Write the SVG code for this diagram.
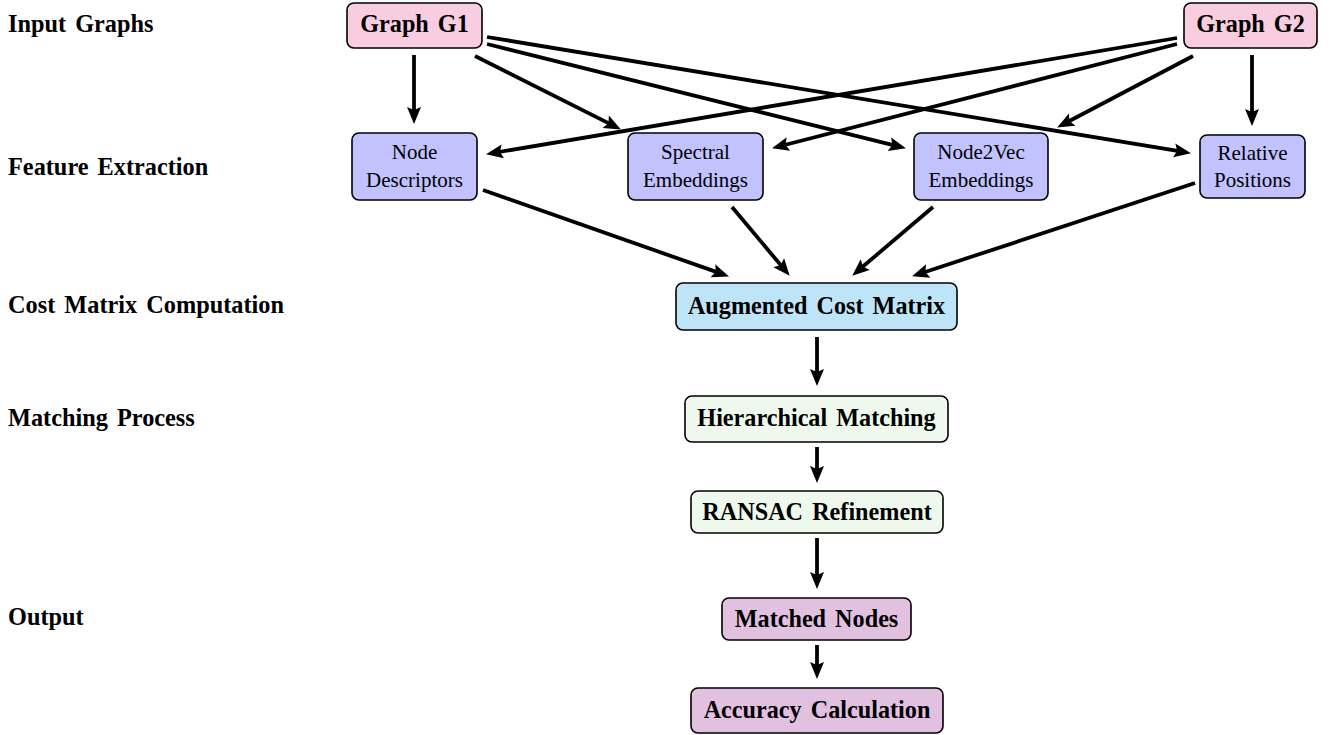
<svg xmlns="http://www.w3.org/2000/svg" width="1330" height="735" viewBox="0 0 1330 735">
<style>
  .box { stroke: #000; stroke-width: 1.6; }
  .pink { fill: #F8CDDF; }
  .blue { fill: #C2C2FF; }
  .cyan { fill: #BEE5F7; }
  .green { fill: #EEF8EC; }
  .violet { fill: #E1C0E0; }
  .bt { font-family: "Liberation Serif", "Times New Roman", serif; font-weight: bold; font-size: 24.2px; word-spacing: 3px; fill: #000; }
  .rt { font-family: "Liberation Serif", "Times New Roman", serif; font-size: 21px; fill: #000; }
  .lbl { font-family: "Liberation Serif", "Times New Roman", serif; font-weight: bold; font-size: 24.3px; word-spacing: 3px; fill: #000; }
  .edge { stroke: #000; stroke-width: 3.8; fill: none; marker-end: url(#ah); }
</style>
<defs>
  <marker id="ah" markerUnits="userSpaceOnUse" markerWidth="20" markerHeight="20" refX="8" refY="0" orient="auto" overflow="visible">
    <path d="M0,-7 L17,0 L0,7 L3,0 z" fill="#000"/>
  </marker>
</defs>
<rect width="1330" height="735" fill="#fff"/>

<g id="labels">
  <text class="lbl" x="8" y="32">Input Graphs</text>
  <text class="lbl" x="8" y="175">Feature Extraction</text>
  <text class="lbl" x="8" y="313">Cost Matrix Computation</text>
  <text class="lbl" x="8" y="426">Matching Process</text>
  <text class="lbl" x="8" y="625">Output</text>
</g>

<g id="connectors">
  <line class="edge" x1="414" y1="55" x2="414" y2="115"/>
  <line class="edge" x1="475" y1="56" x2="612.9" y2="125.4"/>
  <line class="edge" x1="487" y1="44" x2="897.2" y2="146.1"/>
  <line class="edge" x1="487" y1="37" x2="1182.1" y2="151.7"/>
  <line class="edge" x1="1252" y1="55" x2="1252" y2="117"/>
  <line class="edge" x1="1193" y1="56" x2="1065.1" y2="123.3"/>
  <line class="edge" x1="1177" y1="44" x2="780.7" y2="146"/>
  <line class="edge" x1="1177" y1="38" x2="494.9" y2="152.7"/>
  <line class="edge" x1="483" y1="190" x2="720.5" y2="273.4"/>
  <line class="edge" x1="732" y1="207" x2="783.9" y2="268.9"/>
  <line class="edge" x1="933" y1="207" x2="859.1" y2="269.8"/>
  <line class="edge" x1="1195" y1="183" x2="920.6" y2="273.5"/>
  <line class="edge" x1="817" y1="337" x2="817" y2="377"/>
  <line class="edge" x1="817" y1="447" x2="817" y2="474"/>
  <line class="edge" x1="817" y1="538" x2="817" y2="580"/>
  <line class="edge" x1="817" y1="645" x2="817" y2="670"/>
</g>

<g id="g1">
  <rect class="box pink" x="347" y="3" width="135" height="45" rx="7"/>
  <text class="bt" x="414.5" y="32" text-anchor="middle">Graph G1</text>
</g>
<g id="g2">
  <rect class="box pink" x="1184" y="3" width="133" height="45" rx="7"/>
  <text class="bt" x="1250.5" y="32" text-anchor="middle">Graph G2</text>
</g>

<g id="nodedesc">
  <rect class="box blue" x="352" y="133" width="125" height="67" rx="7"/>
  <text class="rt" x="414.5" y="159" text-anchor="middle">Node</text>
  <text class="rt" x="414.5" y="187" text-anchor="middle">Descriptors</text>
</g>
<g id="spectral">
  <rect class="box blue" x="628" y="133" width="135" height="67" rx="7"/>
  <text class="rt" x="695.5" y="159" text-anchor="middle">Spectral</text>
  <text class="rt" x="695.5" y="187" text-anchor="middle">Embeddings</text>
</g>
<g id="node2vec">
  <rect class="box blue" x="914" y="133" width="134" height="67" rx="7"/>
  <text class="rt" x="981" y="159" text-anchor="middle">Node2Vec</text>
  <text class="rt" x="981" y="187" text-anchor="middle">Embeddings</text>
</g>
<g id="relpos">
  <rect class="box blue" x="1200" y="135" width="105" height="63" rx="7"/>
  <text class="rt" x="1252.5" y="160" text-anchor="middle">Relative</text>
  <text class="rt" x="1252.5" y="187" text-anchor="middle">Positions</text>
</g>

<g id="acm">
  <rect class="box cyan" x="676" y="283" width="281" height="47" rx="7"/>
  <text class="bt" x="816.5" y="313.5" text-anchor="middle">Augmented Cost Matrix</text>
</g>
<g id="hm">
  <rect class="box green" x="685" y="396" width="263" height="46" rx="7"/>
  <text class="bt" x="816.5" y="426" text-anchor="middle">Hierarchical Matching</text>
</g>
<g id="ransac">
  <rect class="box green" x="691" y="491" width="252" height="42" rx="7"/>
  <text class="bt" x="817" y="519.5" text-anchor="middle">RANSAC Refinement</text>
</g>
<g id="matched">
  <rect class="box violet" x="722" y="598" width="189" height="42" rx="7"/>
  <text class="bt" x="816.5" y="627" text-anchor="middle">Matched Nodes</text>
</g>
<g id="accuracy">
  <rect class="box violet" x="691" y="688" width="252" height="45" rx="7"/>
  <text class="bt" x="817" y="717.5" text-anchor="middle">Accuracy Calculation</text>
</g>
</svg>
